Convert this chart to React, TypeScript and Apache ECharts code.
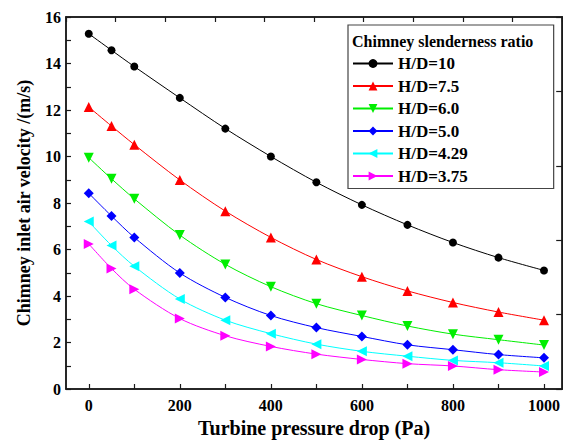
import React, { useEffect, useRef } from "react";
import * as echarts from "echarts";

const pressureDrop = [0, 50, 100, 200, 300, 400, 500, 600, 700, 800, 900, 1000];
const hd10 = [15.28, 14.57, 13.87, 12.52, 11.2, 10.0, 8.89, 7.92, 7.06, 6.3, 5.65, 5.1];
const hd75 = [12.13, 11.31, 10.51, 8.99, 7.65, 6.52, 5.57, 4.83, 4.22, 3.72, 3.31, 2.96];
const hd60 = [9.95, 9.04, 8.18, 6.62, 5.36, 4.4, 3.67, 3.16, 2.71, 2.36, 2.12, 1.89];
const hd50 = [8.42, 7.44, 6.52, 4.99, 3.94, 3.16, 2.64, 2.26, 1.9, 1.69, 1.48, 1.34];
const hd429 = [7.2, 6.17, 5.28, 3.87, 2.96, 2.38, 1.93, 1.62, 1.41, 1.23, 1.13, 0.99];
const hd375 = [6.24, 5.18, 4.29, 3.03, 2.29, 1.83, 1.5, 1.27, 1.09, 0.99, 0.83, 0.73];

const seriesNames = ["H/D=10", "H/D=7.5", "H/D=6.0", "H/D=5.0", "H/D=4.29", "H/D=3.75"];
const seriesValues = [hd10, hd75, hd60, hd50, hd429, hd375];
const seriesColors = ["#000000", "#ff0000", "#00ee00", "#0000ff", "#00ffff", "#ff00ff"];
const seriesSymbols = [
  "circle",
  "triangle",
  "path://M0,0 L10,0 L5,9 Z",
  "diamond",
  "path://M0,5 L9,0 L9,10 Z",
  "path://M0,0 L9,5 L0,10 Z",
];
const seriesSymbolSizes = [8, 10, 10, 10, 10, 10];

const xMin = -50;
const xMax = 1040;
const xStep = 10;
const xTickEvery = 100;
const xLabelEvery = 200;
const xCategories: string[] = [];
for (let v = xMin; v <= xMax; v += xStep) xCategories.push(String(v));

const legendTitle = "Chimney slenderness ratio";
const xTitle = "Turbine pressure drop (Pa)";
const yTitle = "Chimney inlet air velocity /(m/s)";

const FONT = "'Liberation Serif', 'Times New Roman', serif";
const AXIS_COLOR = "#1a1a1a";
const AXIS_Z = 8;

export default function App() {
  const ref = useRef<HTMLDivElement>(null);

  useEffect(() => {
    document.body.style.margin = "0";
    if (!ref.current) return;
    const chart = echarts.init(ref.current, undefined, { renderer: "svg" });

    const series = seriesNames.map((name, i) => ({
      name,
      type: "line",
      xAxisIndex: 0,
      yAxisIndex: 0,
      data: pressureDrop.map((x, j) => [x, seriesValues[i][j]]),
      symbol: seriesSymbols[i],
      symbolSize: seriesSymbolSizes[i],
      smooth: 0.3,
      itemStyle: { color: seriesColors[i] },
      lineStyle: { color: seriesColors[i], width: 1 },
    }));

    chart.setOption({
      animation: false,
      backgroundColor: "#ffffff",
      grid: {
        left: 66,
        right: -1,
        top: 17,
        bottom: 49,
        show: true,
        z: AXIS_Z,
        borderColor: AXIS_COLOR,
        borderWidth: 1.5,
        backgroundColor: "transparent",
      },
      title: {
        text: legendTitle,
        left: 352,
        top: 33,
        padding: 0,
        textStyle: { fontFamily: FONT, fontWeight: "bold", fontSize: 16, color: "#000" },
        z: 14,
      },
      legend: {
        orient: "vertical",
        left: 348,
        top: 25,
        padding: [30, 86, 4, 4],
        backgroundColor: "#ffffff",
        borderColor: "#444444",
        borderWidth: 1.2,
        itemWidth: 40,
        itemHeight: 11,
        itemGap: 5.5,
        textStyle: { fontFamily: FONT, fontWeight: "bold", fontSize: 17, color: "#000" },
        data: seriesNames,
        z: 12,
      },
      xAxis: [
        {
          type: "value",
          show: false,
          position: "bottom",
          min: xMin,
          max: xMax,
        },
        {
          type: "category",
          position: "bottom",
          z: AXIS_Z,
          data: xCategories,
          boundaryGap: false,
          name: xTitle,
          nameLocation: "middle",
          nameGap: 29,
          nameTextStyle: { fontFamily: FONT, fontWeight: "bold", fontSize: 20, color: "#000" },
          axisLine: { show: true, onZero: false, lineStyle: { color: AXIS_COLOR, width: 1.5 } },
          axisTick: {
            show: true,
            inside: true,
            length: 5,
            interval: (_i: number, v: string) => Number(v) >= 0 && Number(v) % xTickEvery === 0,
            lineStyle: { color: AXIS_COLOR, width: 1.2 },
          },
          axisLabel: {
            show: true,
            margin: 8,
            interval: (_i: number, v: string) => Number(v) >= 0 && Number(v) % xLabelEvery === 0,
            fontFamily: FONT,
            fontWeight: "bold",
            fontSize: 16,
            color: "#000",
          },
          splitLine: { show: false },
        },
        {
          type: "value",
          position: "top",
          z: AXIS_Z,
          min: 0,
          max: 10,
          interval: 1,
          axisLine: { show: true, onZero: false, lineStyle: { color: AXIS_COLOR, width: 1.5 } },
          axisTick: { show: true, inside: true, length: 5, lineStyle: { color: AXIS_COLOR, width: 1.2 } },
          axisLabel: { show: false },
          splitLine: { show: false },
        },
      ],
      yAxis: [
        {
          type: "value",
          position: "left",
          z: AXIS_Z,
          min: 0,
          max: 16,
          interval: 1,
          name: yTitle,
          nameLocation: "middle",
          nameGap: 33,
          nameRotate: 90,
          nameTextStyle: { fontFamily: FONT, fontWeight: "bold", fontSize: 18, color: "#000" },
          axisLine: { show: true, onZero: false, lineStyle: { color: AXIS_COLOR, width: 1.5 } },
          axisTick: { show: true, inside: true, length: 5, lineStyle: { color: AXIS_COLOR, width: 1.2 } },
          axisLabel: {
            margin: 5,
            formatter: (v: number) => (v % 2 === 0 ? String(v) : ""),
            fontFamily: FONT,
            fontWeight: "bold",
            fontSize: 16,
            color: "#000",
          },
          splitLine: { show: false },
        },
        {
          type: "value",
          position: "right",
          z: AXIS_Z,
          min: 0,
          max: 5,
          interval: 1,
          inverse: true,
          axisLine: { show: true, onZero: false, lineStyle: { color: AXIS_COLOR, width: 1.5 } },
          axisTick: { show: true, inside: true, length: 6, lineStyle: { color: AXIS_COLOR, width: 1.2 } },
          axisLabel: { show: false },
          splitLine: { show: false },
        },
      ],
      series,
    });

    return () => {
      chart.dispose();
    };
  }, []);

  return <div ref={ref} style={{ width: 563, height: 443 }} />;
}
